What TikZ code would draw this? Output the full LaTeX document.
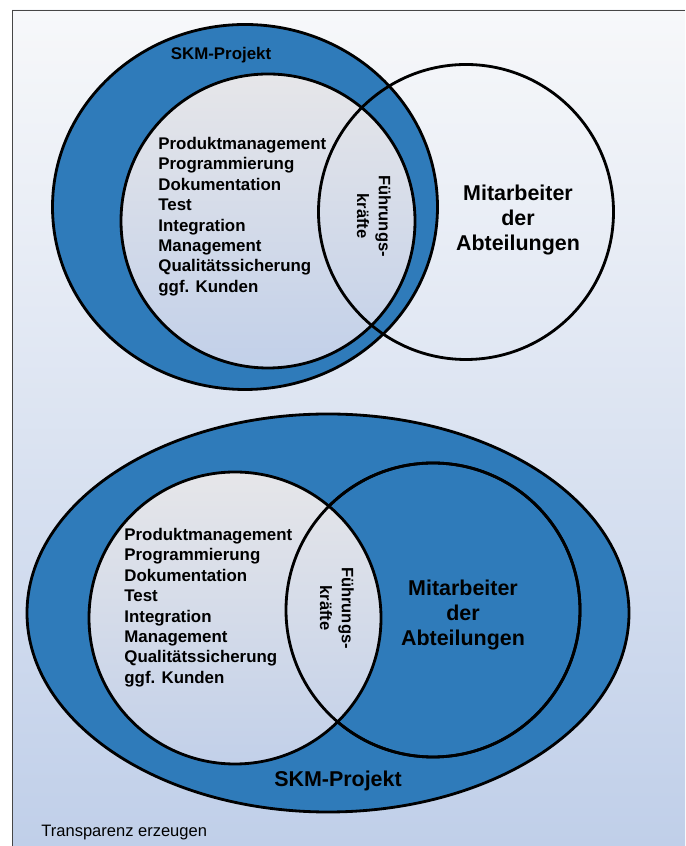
\documentclass[tikz,border=0pt]{standalone}
\usepackage{fontspec}
\setmainfont{Liberation Sans}
\usepackage{xcolor}
\usepackage{tikz}
\usetikzlibrary{shapes}

\definecolor{skmblue}{RGB}{47,123,186}
\definecolor{bgtop}{RGB}{247,248,250}
\definecolor{bgbottom}{RGB}{192,207,233}
\definecolor{teamtop}{RGB}{230,230,233}
\definecolor{teambottom}{RGB}{194,208,233}
\definecolor{framegray}{RGB}{70,70,70}

\begin{document}
\begin{tikzpicture}[auto, line width=1.6pt]
		\tikzstyle{ring} = [draw=black, fill=skmblue, ellipse, inner sep=0pt]
		\tikzstyle{team} = [draw=black, circle, top color=teamtop, bottom color=teambottom, inner sep=0pt]
		\tikzstyle{staff} = [draw=black, circle, inner sep=0pt, minimum size=5.9cm]
		\tikzstyle{roles} = [align=left, anchor=west, inner sep=0pt, font=\bfseries\fontsize{9.6}{11.6}\selectfont]
		\tikzstyle{lead} = [align=center, rotate=-90, inner sep=0pt, font=\bfseries\fontsize{9.4}{12.4}\selectfont]
		\tikzstyle{big} = [align=center, inner sep=0pt, font=\bfseries\fontsize{12.2}{14.2}\selectfont]
		
		\useasboundingbox (0, 0) rectangle (13.7, 16.92);
		
		% background
		\fill[top color=bgtop, bottom color=bgbottom] (0.24, 0) rectangle (13.7, 16.72);
		\draw[framegray, line width=0.5pt] (0.24, 0) -- (0.24, 16.72) -- (13.7, 16.72);
		
		% oben: Mitarbeiter ausserhalb
		\node[ring, minimum width=7.7cm, minimum height=7.3cm] 	at (4.90, 12.78) 	(skm1) 	{};
		\node[team, minimum size=5.88cm] 	at (5.36, 12.50) 	(team1) 	{};
		\node[staff] 	at (9.32, 12.68) 	(staff1) 	{};
		
		\node[big, font=\bfseries\fontsize{9.6}{11.6}\selectfont] 	at (4.42, 15.82) 	(skmlabel1) 	{SKM-Projekt};
		\node[roles] 	at (3.14, 12.59) 	(roles1) 	{Produktmanagement\\Programmierung\\Dokumentation\\Test\\Integration\\Management\\Qualitätssicherung\\ggf. Kunden};
		\node[lead] 	at (7.48, 12.60) 	(lead1) 	{Führungs-\\kräfte};
		\node[big] 	at (10.36, 12.52) 	(stafflabel1) 	{Mitarbeiter\\der\\Abteilungen};
		
		% unten: Mitarbeiter im Projekt
		\node[ring, minimum width=12.04cm, minimum height=7.96cm] 	at (6.56, 4.66) 	(skm2) 	{};
		\node[staff, fill=skmblue, minimum size=5.88cm] 	at (8.66, 4.72) 	(staff2) 	{};
		\node[team, minimum size=5.84cm] 	at (4.70, 4.56) 	(team2) 	{};
		\draw (staff2.center) circle [radius=2.94cm];
		
		\node[big] 	at (6.76, 1.30) 	(skmlabel2) 	{SKM-Projekt};
		\node[roles] 	at (2.46, 4.77) 	(roles2) 	{Produktmanagement\\Programmierung\\Dokumentation\\Test\\Integration\\Management\\Qualitätssicherung\\ggf. Kunden};
		\node[lead] 	at (6.74, 4.76) 	(lead2) 	{Führungs-\\kräfte};
		\node[big] 	at (9.26, 4.62) 	(stafflabel2) 	{Mitarbeiter\\der\\Abteilungen};
		
		\node[anchor=west, inner sep=0pt, font=\fontsize{9.4}{11}\selectfont] 	at (0.80, 0.26) 	(caption) 	{Transparenz erzeugen};
\end{tikzpicture}
\end{document}
